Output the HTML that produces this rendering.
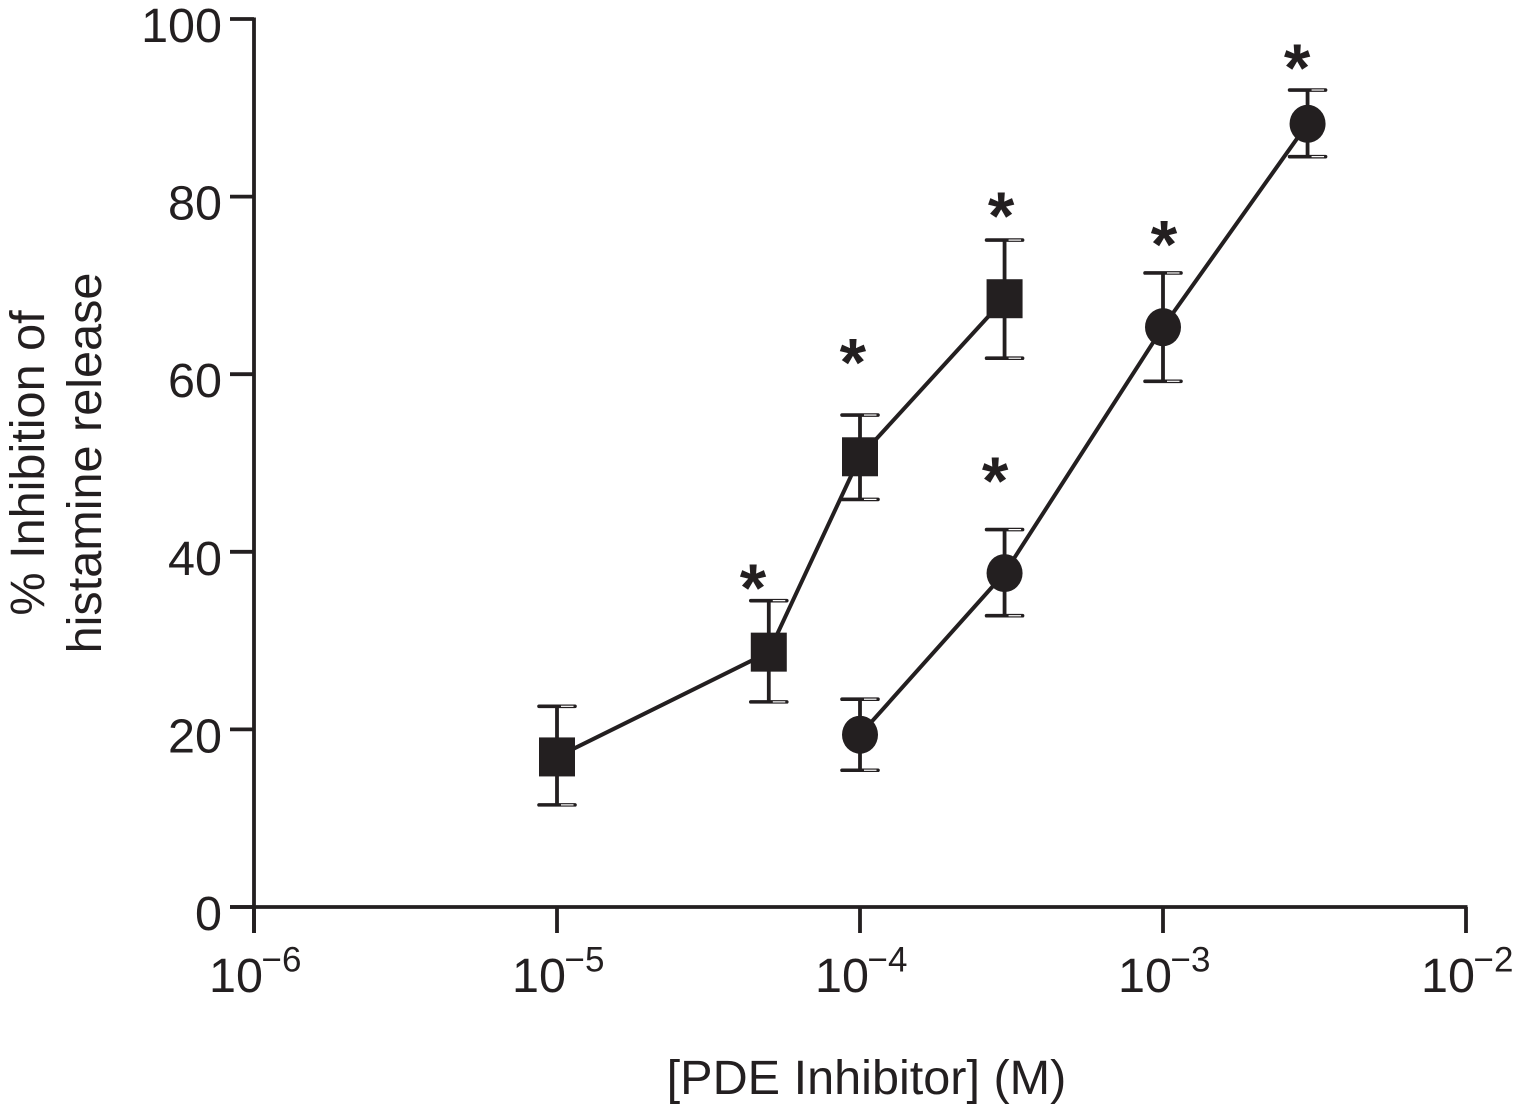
<!DOCTYPE html>
<html lang="en">
<head>
<meta charset="utf-8">
<title>Inhibition of histamine release</title>
<style>
html,body{margin:0;padding:0;background:#fff;width:1513px;height:1115px;overflow:hidden}
svg{display:block;position:absolute;left:0;top:0}
text{font-family:"Liberation Sans",sans-serif;fill:#231f20}
</style>
</head>
<body>
<svg id="chart" width="1513" height="1115" viewBox="0 0 1513 1115" xmlns="http://www.w3.org/2000/svg">
<text transform="translate(44,463) rotate(-90)" text-anchor="middle" font-size="48.6">% Inhibition of</text>
<text transform="translate(101,463) rotate(-90)" text-anchor="middle" font-size="48.6">histamine release</text>
<text x="866.5" y="1094" text-anchor="middle" font-size="48.6">[PDE Inhibitor] (M)</text>
</svg>
<script>
const xExponents = [-6, -5, -4, -3, -2];
const yTicks = [0, 20, 40, 60, 80, 100];

const squareConc = [1e-5, 5e-5, 1e-4, 3e-4];
const squareMean = [16.9, 28.7, 50.7, 68.5];
const squareUpper = [22.6, 34.5, 55.4, 75.1];
const squareLower = [11.5, 23.1, 45.9, 61.8];

const circleConc = [1e-4, 3e-4, 1e-3, 3e-3];
const circleMean = [19.4, 37.6, 65.3, 88.2];
const circleUpper = [23.4, 42.5, 71.4, 92.0];
const circleLower = [15.4, 32.8, 59.2, 84.5];

const starConc = [4.4e-5, 9.4e-5, 2.9e-4, 2.77e-4, 1.0e-3, 2.75e-3];
const starValue = [36.8, 62.2, 78.7, 48.9, 75.5, 95.4];

const ink = '#231f20';
const svg = document.getElementById('chart');
const NS = 'http://www.w3.org/2000/svg';

function xScale(conc) { return 254 + (Math.log10(conc) + 6) * 303; }
function yScale(v) { return 907 - v * 8.88; }

function make(tag, attrs) {
  const el = document.createElementNS(NS, tag);
  for (const k in attrs) el.setAttribute(k, attrs[k]);
  svg.appendChild(el);
  return el;
}
function line(x1, y1, x2, y2, w, color) {
  return make('line', { x1, y1, x2, y2, stroke: color || ink, 'stroke-width': w });
}

// Axes
const yAxis = line(254, yScale(100) - 1.5, 254, 933, 3.8);


const xAxis = line(230, yScale(0), 1467.5, yScale(0), 3.8);



yTicks.forEach(function (t) {
  const y = yScale(t);
  const tick = line(230, y, 254, y, 3.8);
  
  
  const label = make('text', { x: 222, y: y + 23, 'text-anchor': 'end', 'font-size': 48.5 });
  label.textContent = t;
  
  
});

xExponents.forEach(function (e) {
  const x = xScale(Math.pow(10, e));
  const tick = line(x, yScale(0), x, 933, 3.8);
  
  
  const label = make('text', { x: x - 45, y: 992, 'font-size': 48.5 });
  label.textContent = '10';
  
  
  const sup = make('text', { x: x + 7.5, y: 971.5, 'font-size': 35 });
  sup.textContent = '\u2212' + Math.abs(e);
  
  
});

function errorCap(x, y, name) {
  const cap = line(x - 18, y, x + 18, y, 3.6);
  cap.setAttribute('stroke-linecap', 'round');
  
  
  const shine = line(x + 4, y, x + 16.5, y, 1.2, '#ffffff');
  
  
}

function drawSeries(name, conc, mean, upper, lower, marker) {
  const pts = conc.map(function (c, i) { return xScale(c) + ',' + yScale(mean[i]); }).join(' ');
  const path = make('polyline', { points: pts, fill: 'none', stroke: ink, 'stroke-width': 4 });
  
  
  conc.forEach(function (c, i) {
    const x = xScale(c);
    const bar = line(x, yScale(upper[i]), x, yScale(lower[i]), 3.8);
    
    
    errorCap(x, yScale(upper[i]), 'error-cap-upper');
    errorCap(x, yScale(lower[i]), 'error-cap-lower');
    let mark;
    if (marker === 'square') {
      mark = make('rect', { x: x - 18, y: yScale(mean[i]) - 19.5, width: 36, height: 39, fill: ink });
    } else {
      mark = make('ellipse', { cx: x, cy: yScale(mean[i]), rx: 18, ry: 19, fill: ink });
    }
    
    
  });
}

drawSeries('square-series', squareConc, squareMean, squareUpper, squareLower, 'square');
drawSeries('circle-series', circleConc, circleMean, circleUpper, circleLower, 'circle');

starConc.forEach(function (c, i) {
  const star = make('text', { x: xScale(c) + 1, y: yScale(starValue[i]) + 31, 'text-anchor': 'middle', 'font-size': 68, 'font-weight': 'bold' });
  star.textContent = '*';
  
  
});
</script>
</body>
</html>
